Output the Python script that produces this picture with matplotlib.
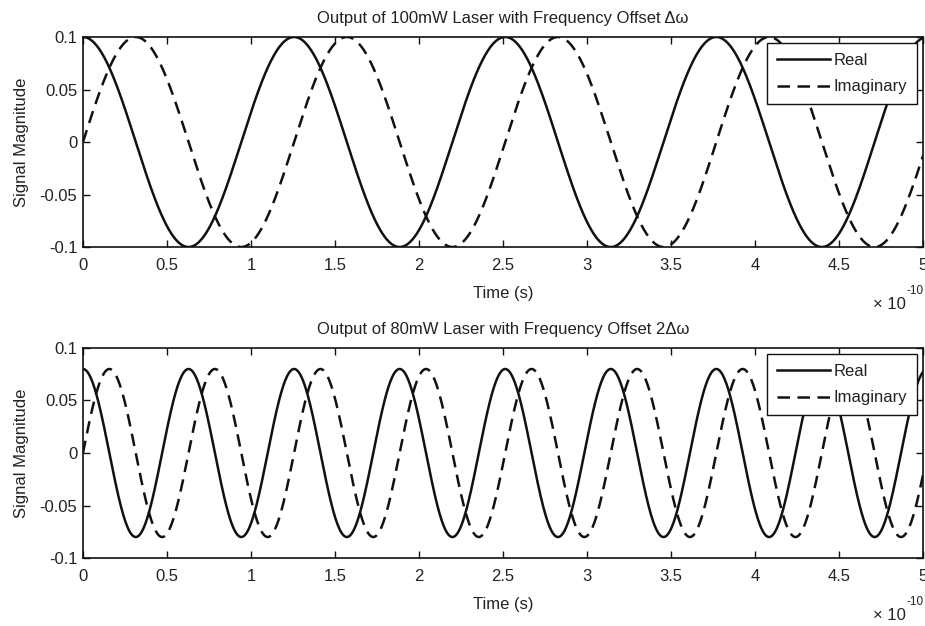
import numpy as np
import matplotlib
matplotlib.use('Agg')
import matplotlib.pyplot as plt

plt.rcParams['font.family'] = ['Liberation Sans', 'DejaVu Sans']

# values
titles = ['Output of 100mW Laser with Frequency Offset \u0394\u03c9',
          'Output of 80mW Laser with Frequency Offset 2\u0394\u03c9']
amplitudes = [0.1, 0.08]            # signal magnitude
offsets = [5e10, 10e10]             # frequency offset (rad/s)
t_end = 5e-10                       # s
x_ticks = [0, 0.5, 1, 1.5, 2, 2.5, 3, 3.5, 4, 4.5, 5]
x_ticklabels = ['0', '0.5', '1', '1.5', '2', '2.5', '3', '3.5', '4', '4.5', '5']
y_ticks = [-0.1, -0.05, 0, 0.05, 0.1]
y_ticklabels = ['-0.1', '-0.05', '0', '0.05', '0.1']

t = np.linspace(0, t_end, 2001)

fig = plt.figure(figsize=(9.25, 6.26), dpi=100)
boxes = [[0.0897, 0.6054, 0.9081, 0.3355],
         [0.0897, 0.1086, 0.9081, 0.3355]]
txt = '#222222'

for i in range(2):
    ax = fig.add_axes(boxes[i])
    field = amplitudes[i] * np.exp(1j * offsets[i] * t)
    ax.plot(t * 1e10, field.real, color='#111111', lw=1.8, label='Real')
    ax.plot(t * 1e10, field.imag, color='#111111', lw=1.8, ls=(0, (5, 3)),
            label='Imaginary')
    ax.set_xlim(0, 5)
    ax.set_ylim(-0.1, 0.1)
    ax.set_xticks(x_ticks)
    ax.set_xticklabels(x_ticklabels)
    ax.set_yticks(y_ticks)
    ax.set_yticklabels(y_ticklabels)
    ax.tick_params(direction='in', top=True, right=True, length=5, width=1,
                   labelsize=12, colors='#111111', labelcolor=txt)
    ax.tick_params(axis='x', pad=8)
    ax.tick_params(axis='y', pad=4)
    for s in ax.spines.values():
        s.set_linewidth(1.2)
        s.set_color('#111111')
    ax.set_title(titles[i], fontsize=12, color=txt, pad=10)
    ax.set_xlabel('Time (s)', fontsize=12, color=txt, labelpad=9)
    ax.set_ylabel('Signal Magnitude', fontsize=12, color=txt, labelpad=8)
    leg = ax.legend(loc='upper right', fontsize=12, handlelength=3.2,
                    fancybox=False, framealpha=1, borderaxespad=0.35,
                    labelspacing=0.7, handletextpad=0.2, borderpad=0.6)
    leg.get_frame().set_edgecolor('#111111')
    leg.get_frame().set_linewidth(1.0)
    for txt_obj in leg.get_texts():
        txt_obj.set_color(txt)
    ax.text(0.94, -0.275, '\u00d7 10', transform=ax.transAxes,
            fontsize=12, color=txt, ha='left', va='center')
    ax.text(0.98, -0.21, '-10', transform=ax.transAxes,
            fontsize=8.5, color=txt, ha='left', va='center')

fig.savefig('out.png', dpi=100)
